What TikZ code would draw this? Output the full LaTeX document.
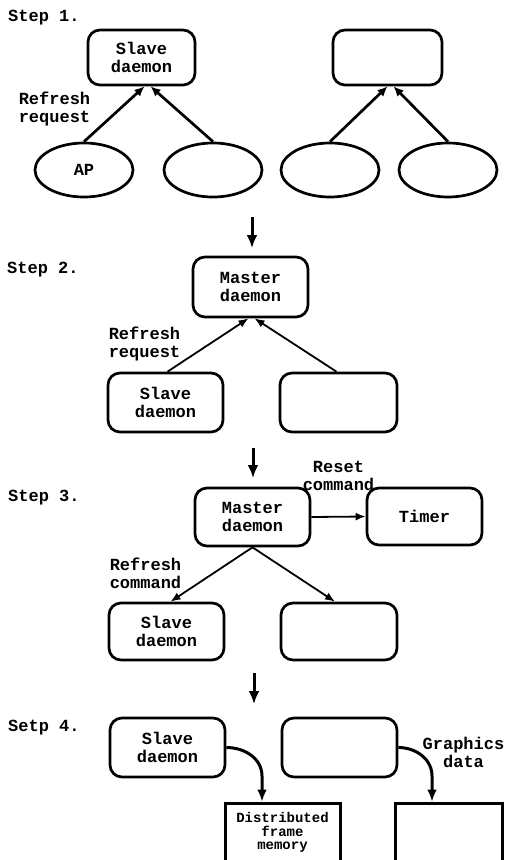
\documentclass[tikz,border=0pt]{standalone}
\usepackage{fontspec}
\setmainfont{Liberation Mono}
\usetikzlibrary{arrows.meta,shapes.geometric,calc}

\tikzset{
  txt/.style={font=\fontsize{17}{18}\selectfont\bfseries, align=center, inner sep=0pt},
  steplabel/.style={txt, anchor=west},
  rbox/.style={draw, line width=2.7pt, rounded corners=12pt, txt},
  oval/.style={draw, ellipse, line width=2.7pt, txt, minimum width=98pt, minimum height=54pt},
  sqbox/.style={draw, line width=3pt, inner sep=0pt},
  thickarrow/.style={line width=2.7pt, -{Latex[length=10pt,width=9pt]}},
  thinarrow/.style={line width=1.8pt, -{Latex[length=10pt,width=8pt]}},
  downarrow/.style={line width=3pt, -{Latex[length=13pt,width=11pt]}},
  bendarrow/.style={line width=3pt, -{Latex[length=12pt,width=10pt]}},
}

\begin{document}
\begin{tikzpicture}[x=1pt, y=-1pt]
  \clip (0,0) rectangle (506,860);
  \fill[white] (0,0) rectangle (506,860);

  % ---------- Step 1 ----------
  \node[steplabel] (l1) at (8,18) {Step 1.};
  \node[rbox, minimum width=107pt, minimum height=55pt] (s1a) at (141.5,57.5) {Slave\\daemon};
  \node[rbox, minimum width=109pt, minimum height=55pt] (s1b) at (387.5,57.5) {};
  \node[oval] (e1) at (84,170) {AP};
  \node[oval] (e2) at (213,170) {};
  \node[oval] (e3) at (330,170) {};
  \node[oval] (e4) at (448,170) {};
  \node[txt] (rr1) at (54.5,109) {Refresh\\request};
  \draw[thickarrow] (e1.north) -- ([xshift=3pt]s1a.south);
  \draw[thickarrow] (e2.north) -- ([xshift=9pt]s1a.south);
  \draw[thickarrow] (e3.north) -- ([xshift=0pt]s1b.south);
  \draw[thickarrow] (e4.north) -- ([xshift=6pt]s1b.south);

  % ---------- Step 2 ----------
  \coordinate (d1a) at (252,217);
  \coordinate (d1b) at (252,248);
  \draw[downarrow] (d1a) -- (d1b);
  \node[steplabel] (l2) at (7,270) {Step 2.};
  \node[rbox, minimum width=115pt, minimum height=60pt] (m2) at (250.5,287) {Master\\daemon};
  \node[rbox, minimum width=115pt, minimum height=59pt] (s2a) at (165.5,402.5) {Slave\\daemon};
  \node[rbox, minimum width=117pt, minimum height=59pt] (s2b) at (338.5,402.5) {};
  \node[txt] (rr2) at (144.5,343.5) {Refresh\\request};
  \draw[thinarrow] ([xshift=2pt]s2a.north) -- ([xshift=-2pt]m2.south);
  \draw[thinarrow] ([xshift=-2pt]s2b.north) -- ([xshift=4pt]m2.south);

  % ---------- Step 3 ----------
  \coordinate (d2a) at (253,448);
  \coordinate (d2b) at (253,478);
  \draw[downarrow] (d2a) -- (d2b);
  \node[steplabel] (l3) at (8,498) {Step 3.};
  \node[rbox, minimum width=115pt, minimum height=58pt] (m3) at (252.5,517) {Master\\daemon};
  \node[rbox, minimum width=115pt, minimum height=57pt] (tm) at (424.5,516.5) {Timer};
  \node[txt] (rc) at (338.5,475.5) {Reset\\command};
  \node[rbox, minimum width=115pt, minimum height=57pt] (s3a) at (166.5,631.5) {Slave\\daemon};
  \node[rbox, minimum width=116pt, minimum height=57pt] (s3b) at (339,631.5) {};
  \node[txt] (rfc) at (145.5,573) {Refresh\\command};
  \draw[thinarrow] (m3.east) -- (tm.west);
  \draw[thinarrow] (m3.south) -- ([xshift=4pt]s3a.north);
  \draw[thinarrow] (m3.south) -- ([xshift=-4pt]s3b.north);

  % ---------- Step 4 ----------
  \coordinate (d3a) at (254,673);
  \coordinate (d3b) at (254,704);
  \draw[downarrow] (d3a) -- (d3b);
  \node[steplabel] (l4) at (8,728) {Setp 4.};
  \node[rbox, minimum width=115pt, minimum height=59pt] (s4a) at (167.5,747.5) {Slave\\daemon};
  \node[rbox, minimum width=115pt, minimum height=59pt] (s4b) at (339.5,747.5) {};
  \node[sqbox, minimum width=115pt, minimum height=80pt] (fm) at (282.5,843) {};
  \node[sqbox, minimum width=107pt, minimum height=80pt] (fm2) at (448.5,843) {};
  \node[txt, font=\fontsize{14}{13.5}\selectfont\bfseries, anchor=north] (fmtxt) at ([yshift=-11pt]fm.north) {Distributed\\frame\\memory};
  \node[txt] (gd) at (463.5,752) {Graphics\\data};
  \coordinate (k1) at (262,776);
  \coordinate (k2) at (432,776);
  \draw[bendarrow] (s4a.east) to[out=0, in=90] (k1) -- (k1 |- fm.north);
  \draw[bendarrow] (s4b.east) to[out=0, in=90] (k2) -- (k2 |- fm2.north);
\end{tikzpicture}
\end{document}
